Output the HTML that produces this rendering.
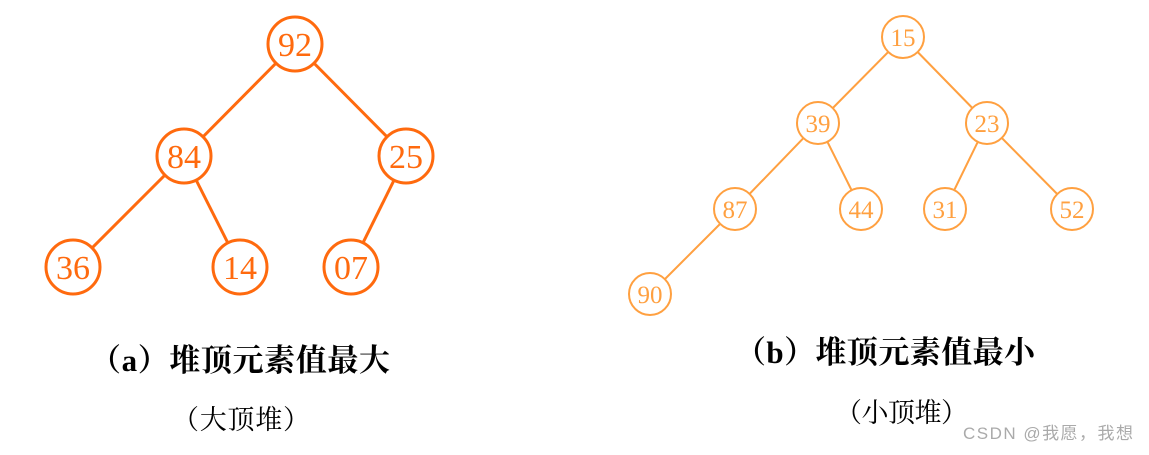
<!DOCTYPE html>
<html><head><meta charset="utf-8"><style>
body{margin:0;width:1149px;height:450px;background:#fff;overflow:hidden}
</style></head><body>
<svg width="1149" height="450" xmlns="http://www.w3.org/2000/svg" font-family="'Liberation Serif','Noto Serif CJK SC',serif">
<g stroke="#FF6A0E" stroke-width="3" fill="none">
<line x1="295" y1="44" x2="184" y2="156"/><line x1="295" y1="44" x2="406" y2="156"/>
<line x1="184" y1="156" x2="73" y2="267"/><line x1="184" y1="156" x2="240" y2="267"/>
<line x1="406" y1="156" x2="351" y2="267"/>
</g>
<g stroke="#FF6A0E" stroke-width="3" fill="#fff">
<circle cx="295" cy="44" r="27"/><circle cx="184" cy="156" r="27"/><circle cx="406" cy="156" r="27"/>
<circle cx="73" cy="267" r="27"/><circle cx="240" cy="267" r="27"/><circle cx="351" cy="267" r="27"/>
</g>
<g fill="#FF6A0E" font-size="34" text-anchor="middle">
<text x="295" y="56">92</text><text x="184" y="168">84</text><text x="406" y="168">25</text>
<text x="73" y="279">36</text><text x="240" y="279">14</text><text x="351" y="279">07</text>
</g>
<g stroke="#FFA040" stroke-width="2" fill="none">
<line x1="903" y1="37" x2="818" y2="123"/><line x1="903" y1="37" x2="987" y2="123"/>
<line x1="818" y1="123" x2="735" y2="209"/><line x1="818" y1="123" x2="861" y2="209"/>
<line x1="987" y1="123" x2="945" y2="209"/><line x1="987" y1="123" x2="1072" y2="209"/>
<line x1="735" y1="209" x2="650" y2="294"/>
</g>
<g stroke="#FFA040" stroke-width="2" fill="#fff">
<circle cx="903" cy="37" r="21"/><circle cx="818" cy="123" r="21"/><circle cx="987" cy="123" r="21"/>
<circle cx="735" cy="209" r="21"/><circle cx="861" cy="209" r="21"/><circle cx="945" cy="209" r="21"/>
<circle cx="1072" cy="209" r="21"/><circle cx="650" cy="294" r="21"/>
</g>
<g fill="#FFA040" font-size="25" text-anchor="middle">
<text x="903" y="46">15</text><text x="818" y="132">39</text><text x="987" y="132">23</text>
<text x="735" y="218">87</text><text x="861" y="218">44</text><text x="945" y="218">31</text>
<text x="1072" y="218">52</text><text x="650" y="303">90</text>
</g>
<g fill="#000" font-size="31" font-weight="bold">
<text x="90" y="371" textLength="300" lengthAdjust="spacing">（a）堆顶元素值最大</text>
<text x="735" y="363" textLength="300" lengthAdjust="spacing">（b）堆顶元素值最小</text>
</g>
<g fill="#000" font-size="27">
<text x="172" y="429" textLength="138" lengthAdjust="spacing">（大顶堆）</text>
<text x="835" y="422" textLength="133" lengthAdjust="spacing">（小顶堆）</text>
</g>
<text x="963" y="439" font-size="17" fill="#aaa" textLength="170" lengthAdjust="spacing" font-family="'Liberation Sans','Noto Sans CJK SC',sans-serif">CSDN @我愿，我想</text>
</svg>
</body></html>
